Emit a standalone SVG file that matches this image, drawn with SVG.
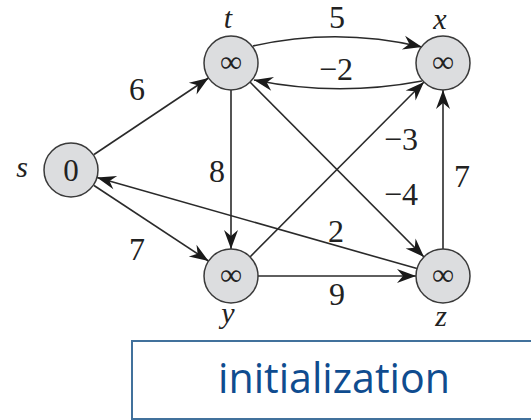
<svg xmlns="http://www.w3.org/2000/svg" width="531" height="420" viewBox="0 0 531 420">
<style>
.node{fill:#dcdddf;stroke:#3a3a3a;stroke-width:1.5}
.edge{fill:none;stroke:#2a2a2a;stroke-width:1.6}
</style>
<defs>
<marker id="ah" markerUnits="userSpaceOnUse" markerWidth="22" markerHeight="16" refX="20" refY="8" orient="auto">
<path d="M20,8 L1,1 L7,8 L1,15 Z" fill="#1a1a1a"/>
</marker>
</defs>
<rect width="531" height="420" fill="#fff"/>
<g id="connectors">
<line class="edge" x1="94" y1="154.5" x2="208.5" y2="78" marker-end="url(#ah)"/>
<line class="edge" x1="94" y1="185.5" x2="208.5" y2="261" marker-end="url(#ah)"/>
<path class="edge" d="M253,46 Q337,27 422,47" marker-end="url(#ah)"/>
<path class="edge" d="M422,81 Q337,97 254,80" marker-end="url(#ah)"/>
<line class="edge" x1="231" y1="90" x2="231" y2="249" marker-end="url(#ah)"/>
<line class="edge" x1="250" y1="82" x2="424" y2="257" marker-end="url(#ah)"/>
<line class="edge" x1="250" y1="257" x2="424" y2="82" marker-end="url(#ah)"/>
<line class="edge" x1="258" y1="276" x2="416" y2="276" marker-end="url(#ah)"/>
<line class="edge" x1="443" y1="249" x2="443" y2="90" marker-end="url(#ah)"/>
<line class="edge" x1="417" y1="268.6" x2="97" y2="177.4" marker-end="url(#ah)"/>
</g>
<g id="edge-labels" font-family="Liberation Serif, Times New Roman, serif" font-size="32" fill="#222" text-anchor="middle">
<text x="137" y="100">6</text>
<text x="337" y="28">5</text>
<text x="336" y="80">−2</text>
<text x="401" y="150">−3</text>
<text x="401" y="205">−4</text>
<text x="462" y="187">7</text>
<text x="217" y="182">8</text>
<text x="137" y="260">7</text>
<text x="336" y="242">2</text>
<text x="337" y="305">9</text>
</g>
<g font-family="Liberation Serif, Times New Roman, serif" fill="#222" text-anchor="middle">
<g id="node-s">
<circle class="node" cx="71" cy="170" r="27"/>
<text x="71" y="181" font-size="31">0</text>
<text x="22" y="177" font-size="30" font-style="italic">s</text>
</g>
<g id="node-t">
<circle class="node" cx="231" cy="63" r="27"/>
<text x="231" y="72" font-size="31">∞</text>
<text x="228" y="28" font-size="30" font-style="italic">t</text>
</g>
<g id="node-x">
<circle class="node" cx="443" cy="63" r="27"/>
<text x="443" y="72" font-size="31">∞</text>
<text x="440" y="29" font-size="30" font-style="italic">x</text>
</g>
<g id="node-y">
<circle class="node" cx="231" cy="276" r="27"/>
<text x="231" y="285" font-size="31">∞</text>
<text x="228" y="323" font-size="30" font-style="italic">y</text>
</g>
<g id="node-z">
<circle class="node" cx="443" cy="276" r="27"/>
<text x="443" y="285" font-size="31">∞</text>
<text x="441" y="326" font-size="30" font-style="italic">z</text>
</g>
</g>
<g id="caption">
<rect x="132" y="341" width="410" height="78" fill="#fff" stroke="#41719c" stroke-width="2"/>
<text x="334" y="393" font-family="Open Sans, Noto Sans, sans-serif" font-size="42" fill="#0f4c8f" text-anchor="middle" textLength="232" lengthAdjust="spacingAndGlyphs">initialization</text>
</g>
</svg>
